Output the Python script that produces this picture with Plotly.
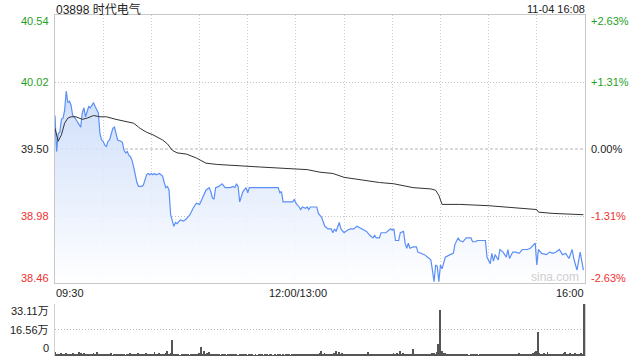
import plotly.graph_objects as go

# ---------------- data ----------------
TITLE = "03898 时代电气"
STAMP = "11-04 16:08"
PREV_CLOSE = 39.50
PRICE_TICKS = [40.54, 40.02, 39.50, 38.98, 38.46]
PCT_TICKS = ["+2.63%", "+1.31%", "0.00%", "-1.31%", "-2.63%"]
VOL_TICKS = [33.11, 16.56, 0]
VOL_LABELS = ["33.11万", "16.56万", "0"]
TIME_LABELS = ["09:30", "12:00/13:00", "16:00"]
TIME_POS = [0, 150, 330]          # minutes from 09:30 (lunch break collapsed)
GRID_MINUTES = [30, 60, 90, 120, 150, 180, 210, 240, 270, 300]

# (minute, price)
PRICE_POINTS = [
    (0, 39.76), (1, 39.48), (2, 39.62), (3, 39.63), (4, 39.73), (5, 39.74), (6, 39.80), (7, 39.95),
    (8, 39.86), (9, 39.87), (10, 39.84), (11, 39.76), (12, 39.75), (13, 39.73), (14, 39.70), (15, 39.69),
    (16, 39.67), (17, 39.78), (18, 39.82), (19, 39.75), (20, 39.79), (21, 39.83), (22, 39.82), (23, 39.84),
    (24, 39.86), (25, 39.83), (27, 39.78), (28, 39.62), (29, 39.57), (30, 39.56), (31, 39.53), (32, 39.52),
    (33, 39.56), (34, 39.57), (35, 39.61), (36, 39.66), (37, 39.67), (38, 39.61), (39, 39.57), (41, 39.56),
    (42, 39.55), (43, 39.49), (44, 39.47), (45, 39.48), (46, 39.45), (47, 39.44), (48, 39.41), (49, 39.36),
    (50, 39.29), (51, 39.24), (52, 39.21), (54, 39.21), (55, 39.22), (56, 39.26), (57, 39.30), (58, 39.31),
    (59, 39.30), (60, 39.31), (61, 39.30), (62, 39.31), (63, 39.30), (65, 39.31), (67, 39.29), (68, 39.24),
    (69, 39.20), (70, 39.21), (71, 39.18), (72, 38.99), (74, 38.90), (75, 38.93), (76, 38.92), (78, 38.95),
    (80, 38.94), (82, 38.96), (84, 38.99), (86, 39.04), (88, 39.08), (90, 39.07), (92, 39.13), (94, 39.18),
    (96, 39.20), (97, 39.17), (98, 39.12), (99, 39.11), (100, 39.20), (102, 39.21), (104, 39.23), (106, 39.20),
    (109, 39.20), (111, 39.21), (112, 39.20), (113, 39.23), (114, 39.21), (115, 39.09), (117, 39.17), (119, 39.20),
    (120, 39.16), (121, 39.20), (139, 39.20), (140, 39.16), (141, 39.17), (142, 39.09), (146, 39.09), (148, 39.09),
    (149, 39.11), (150, 39.08), (152, 39.05), (153, 39.03), (154, 39.05), (156, 39.04), (157, 39.05), (158, 39.03),
    (159, 39.05), (163, 39.05), (164, 39.00), (166, 38.97), (168, 38.90), (170, 38.88), (172, 38.88), (173, 38.85),
    (174, 38.88), (175, 38.86), (177, 38.93), (178, 38.88), (180, 38.85), (182, 38.87), (184, 38.88), (186, 38.88),
    (188, 38.90), (192, 38.87), (194, 38.86), (196, 38.83), (198, 38.81), (199, 38.83), (200, 38.81), (202, 38.81),
    (203, 38.85), (206, 38.85), (208, 38.87), (209, 38.88), (210, 38.87), (211, 38.88), (212, 38.79), (214, 38.79),
    (215, 38.85), (217, 38.86), (218, 38.77), (219, 38.73), (220, 38.77), (221, 38.73), (223, 38.74), (225, 38.74),
    (226, 38.70), (228, 38.69), (230, 38.68), (232, 38.66), (234, 38.64), (235, 38.56), (236, 38.47), (237, 38.60),
    (238, 38.59), (239, 38.47), (240, 38.60), (241, 38.57), (243, 38.66), (246, 38.68), (248, 38.69), (249, 38.76),
    (251, 38.81), (252, 38.79), (254, 38.78), (256, 38.81), (259, 38.81), (260, 38.78), (262, 38.78), (263, 38.79),
    (268, 38.79), (269, 38.66), (271, 38.61), (272, 38.69), (273, 38.63), (274, 38.68), (276, 38.64), (277, 38.72),
    (279, 38.70), (281, 38.66), (282, 38.72), (283, 38.65), (285, 38.70), (287, 38.70), (289, 38.69), (291, 38.72),
    (294, 38.72), (296, 38.73), (298, 38.76), (299, 38.77), (300, 38.60), (301, 38.72), (303, 38.69), (306, 38.68),
    (308, 38.70), (310, 38.69), (312, 38.70), (314, 38.72), (316, 38.68), (318, 38.69), (320, 38.65), (322, 38.72),
    (323, 38.65), (324, 38.61), (325, 38.56), (326, 38.63), (327, 38.70), (329, 38.56),
]

# (minute, average price)
AVG_POINTS = [
    (0, 39.66), (2, 39.56), (4, 39.61), (6, 39.70), (8, 39.74), (10, 39.75), (13, 39.75), (17, 39.73),
    (20, 39.74), (24, 39.76), (28, 39.75), (32, 39.75), (38, 39.73), (42, 39.72), (49, 39.70), (52, 39.67),
    (53, 39.66), (57, 39.63), (61, 39.61), (67, 39.57), (70, 39.54), (73, 39.49), (76, 39.47), (82, 39.46),
    (88, 39.43), (94, 39.39), (101, 39.38), (128, 39.36), (157, 39.34), (165, 39.32), (173, 39.31), (180, 39.28),
    (190, 39.26), (202, 39.24), (211, 39.23), (219, 39.21), (223, 39.20), (234, 39.19), (237, 39.18), (239, 39.14),
    (241, 39.07), (252, 39.07), (270, 39.06), (300, 39.03), (301, 39.01), (310, 39.00), (329, 38.99),
]

# volume per minute, in 万 (10k shares), minutes 0..330
VOLUME = [
    2.4, 1.0, 1.5, 0.9, 1.8, 1.2, 0.8, 2.1, 1.4, 1.0, 0.7, 1.9, 1.1, 0.9, 1.3, 2.8, 1.6, 1.2, 2.2, 1.0, 0.8, 1.5, 1.1, 0.9, 1.7, 1.3, 2.4, 1.0, 0.8, 1.2,
    0.9, 1.4, 0.7, 1.1, 0.8, 1.6, 0.6, 1.0, 0.9, 1.3, 0.7, 1.1, 1.5, 0.8, 0.6, 1.2, 0.9, 1.8, 0.7, 1.0, 1.4, 0.8, 1.9, 1.1, 0.7, 1.3, 0.9, 1.6, 1.0, 0.8,
    1.2, 1.5, 2.8, 1.0, 0.9, 2.0, 1.1, 1.4, 0.8, 1.7, 3.5, 1.2, 2.0, 10.4, 1.3, 0.9, 0.7, 1.1, 0.6, 0.9, 0.8, 1.2, 0.7, 1.0, 0.6, 0.9, 1.3, 0.8, 0.7, 1.1,
    1.6, 5.8, 1.4, 2.9, 1.1, 1.8, 2.4, 1.0, 0.9, 1.5, 0.8, 1.1, 0.7, 0.6, 0.9, 0.7, 1.2, 0.6, 0.8, 1.0, 0.7, 0.9, 1.3, 0.8, 0.6, 1.0, 1.4, 0.9, 0.7, 0.8,
    0.6, 0.9, 0.7, 1.1, 0.5, 0.8, 0.6, 1.0, 0.7, 0.9, 0.5, 0.8, 1.2, 0.6, 0.7, 0.9, 0.5, 0.8, 0.6, 1.0, 0.7, 0.6, 0.9, 0.5, 0.8, 0.7, 1.1, 0.6, 0.8, 1.0,
    1.5, 0.9, 1.2, 0.8, 1.1, 0.7, 1.0, 0.9, 1.3, 0.8, 0.7, 1.2, 0.9, 1.4, 1.1, 1.8, 3.5, 1.2, 1.6, 1.0, 1.3, 0.9, 1.5, 1.2, 1.9, 2.9, 1.4, 2.3, 1.1, 1.6,
    1.2, 0.9, 1.4, 1.0, 0.8, 1.3, 0.9, 1.1, 0.7, 1.0, 1.2, 0.8, 1.5, 0.9, 1.1, 2.8, 1.0, 0.8, 1.3, 0.9, 1.1, 0.7, 1.0, 0.9, 1.4, 0.8, 1.2, 1.0, 0.9, 1.3,
    1.1, 1.6, 1.3, 2.0, 1.2, 2.9, 1.4, 2.2, 1.0, 1.5, 1.1, 0.9, 1.4, 4.2, 1.2, 1.0, 1.3, 0.9, 1.1, 1.5, 1.0, 1.2, 0.8, 1.4, 1.1, 1.6, 2.1, 1.3, 2.8, 7.6,
    29.5, 3.1, 1.6, 2.0, 1.2, 1.0, 0.8, 1.1, 0.9, 1.3, 0.7, 1.0, 0.8, 0.9, 1.2, 0.7, 1.0, 0.8, 0.6, 0.9, 1.1, 0.7, 0.8, 1.0, 0.6, 0.9, 0.7, 1.2, 0.8, 1.4,
    1.0, 1.3, 0.9, 1.1, 1.5, 0.8, 1.2, 1.0, 0.9, 1.3, 0.8, 1.1, 1.4, 0.9, 1.0, 1.2, 0.8, 1.3, 1.0, 1.6, 0.9, 1.1, 0.8, 1.2, 1.5, 1.0, 1.3, 0.9, 1.8, 2.4,
    3.2, 15.3, 2.0, 1.4, 1.1, 1.6, 1.0, 2.5, 1.2, 0.9, 1.4, 1.1, 1.3, 0.8, 1.2, 1.5, 1.0, 1.7, 2.8, 1.3, 1.1, 1.6, 1.0, 1.4, 1.9, 1.2, 1.5, 1.1, 2.0, 1.4,
    33.11,
]

# ---------------- styling ----------------
W, H = 640, 360
FONT = "Liberation Sans, Arial, Noto Sans CJK SC, sans-serif"
GREEN = "#1f9f1f"
RED = "#ee3030"
BLACK = "#222222"
BLUE = "#5b8ff5"
DOT = "1px,2px"

PX_L, PX_R = 55, 585
PRICE_TOP, PRICE_BOT = 15, 283
VOL_TOP, VOL_BOT = 304, 356

def fx(px):
    return px / W

def fy(py):
    return 1 - py / H

t_price = [a for a, b in PRICE_POINTS]
v_price = [b for a, b in PRICE_POINTS]
t_avg = [a for a, b in AVG_POINTS]
v_avg = [b for a, b in AVG_POINTS]
t_vol = list(range(len(VOLUME)))

fig = go.Figure()

# baseline for the area fill
fig.add_trace(go.Scatter(x=[TIME_POS[0], TIME_POS[-1]], y=[PRICE_TICKS[-1], PRICE_TICKS[-1]],
                         mode="lines", line=dict(width=0), hoverinfo="skip", showlegend=False,
                         xaxis="x", yaxis="y"))
fig.add_trace(go.Scatter(x=t_price, y=v_price, mode="lines",
                         line=dict(color=BLUE, width=1.2),
                         fill="tonexty",
                         fillgradient=dict(type="vertical",
                                           colorscale=[[0, "rgba(255,255,255,0.9)"],
                                                       [1, "rgba(200,218,250,0.85)"]],
                                           start=PRICE_TICKS[-1], stop=39.9),
                         showlegend=False, xaxis="x", yaxis="y"))
fig.add_trace(go.Scatter(x=t_avg, y=v_avg, mode="lines",
                         line=dict(color="#333333", width=1),
                         showlegend=False, xaxis="x", yaxis="y"))
fig.add_trace(go.Bar(x=t_vol, y=VOLUME, marker=dict(color="#555555", line=dict(width=0)),
                     width=0.55, showlegend=False, xaxis="x2", yaxis="y2"))

dom_x = [fx(PX_L), fx(PX_R)]
fig.update_layout(
    width=W, height=H,
    margin=dict(l=0, r=0, t=0, b=0),
    paper_bgcolor="white", plot_bgcolor="white",
    font=dict(family=FONT, size=11, color=BLACK),
    bargap=0,
    xaxis=dict(domain=dom_x, range=[TIME_POS[0], TIME_POS[-1]], anchor="y",
               tickvals=GRID_MINUTES, showticklabels=False, ticks="",
               showgrid=True, gridcolor="#cfcfcf", griddash=DOT, gridwidth=1,
               showline=True, mirror=True, linecolor="#c8c8c8", linewidth=1, zeroline=False),
    yaxis=dict(domain=[fy(PRICE_BOT), fy(PRICE_TOP)], range=[PRICE_TICKS[-1], PRICE_TICKS[0]],
               anchor="x", tickvals=[PRICE_TICKS[1], PRICE_TICKS[3]], showticklabels=False, ticks="",
               showgrid=True, gridcolor="#c4c4c4", griddash=DOT, gridwidth=1,
               showline=True, mirror=True, linecolor="#c8c8c8", linewidth=1, zeroline=False),
    xaxis2=dict(domain=dom_x, range=[TIME_POS[0], TIME_POS[-1] + 0.4], anchor="y2",
                showticklabels=False, ticks="", showgrid=False, showline=False, zeroline=False),
    yaxis2=dict(domain=[fy(VOL_BOT), fy(VOL_TOP)], range=[0, VOL_TICKS[0]], anchor="x2",
                tickvals=[VOL_TICKS[1], VOL_TICKS[0]], showticklabels=False, ticks="",
                showgrid=True, gridcolor="#b8b8b8", griddash=DOT, gridwidth=1,
                showline=True, mirror=True, linecolor="#d0d0d0", linewidth=1, zeroline=False),
    shapes=[dict(type="line", xref="x domain", x0=0, x1=1, yref="y", y0=PREV_CLOSE, y1=PREV_CLOSE,
                 line=dict(color="#b4b4b4", width=1, dash="3px,2px"), layer="below")],
)

ann = []
def label(text, px, py, xanchor, color=BLACK, size=11):
    ann.append(dict(text=text, x=fx(px), y=fy(py), xref="paper", yref="paper",
                    xanchor=xanchor, yanchor="middle", showarrow=False,
                    font=dict(family=FONT, size=size, color=color)))

label(TITLE, 54, 9, "left", BLACK, 12)
label(STAMP, 587, 9, "right", BLACK, 11)

left_y = [21, 82, 149, 216, 278]
left_col = [GREEN, GREEN, BLACK, RED, RED]
for txt, yy, c in zip(PRICE_TICKS, left_y, left_col):
    label(f"{txt:.2f}", 51, yy, "right", c)
for txt, yy, c in zip(PCT_TICKS, left_y, left_col):
    label(txt, 589, yy, "left", c)

for txt, yy in zip(VOL_LABELS, [311, 330, 348]):
    label(txt, 51, yy, "right", BLACK)

label(TIME_LABELS[0], 54, 293, "left")
label(TIME_LABELS[1], 298, 293, "center")
label(TIME_LABELS[2], 586, 293, "right")

label("sina.com", 555, 277, "center", "#cfcfcf", 12)

fig.update_layout(annotations=ann)
fig.write_html("out.html", config={"displayModeBar": False})
